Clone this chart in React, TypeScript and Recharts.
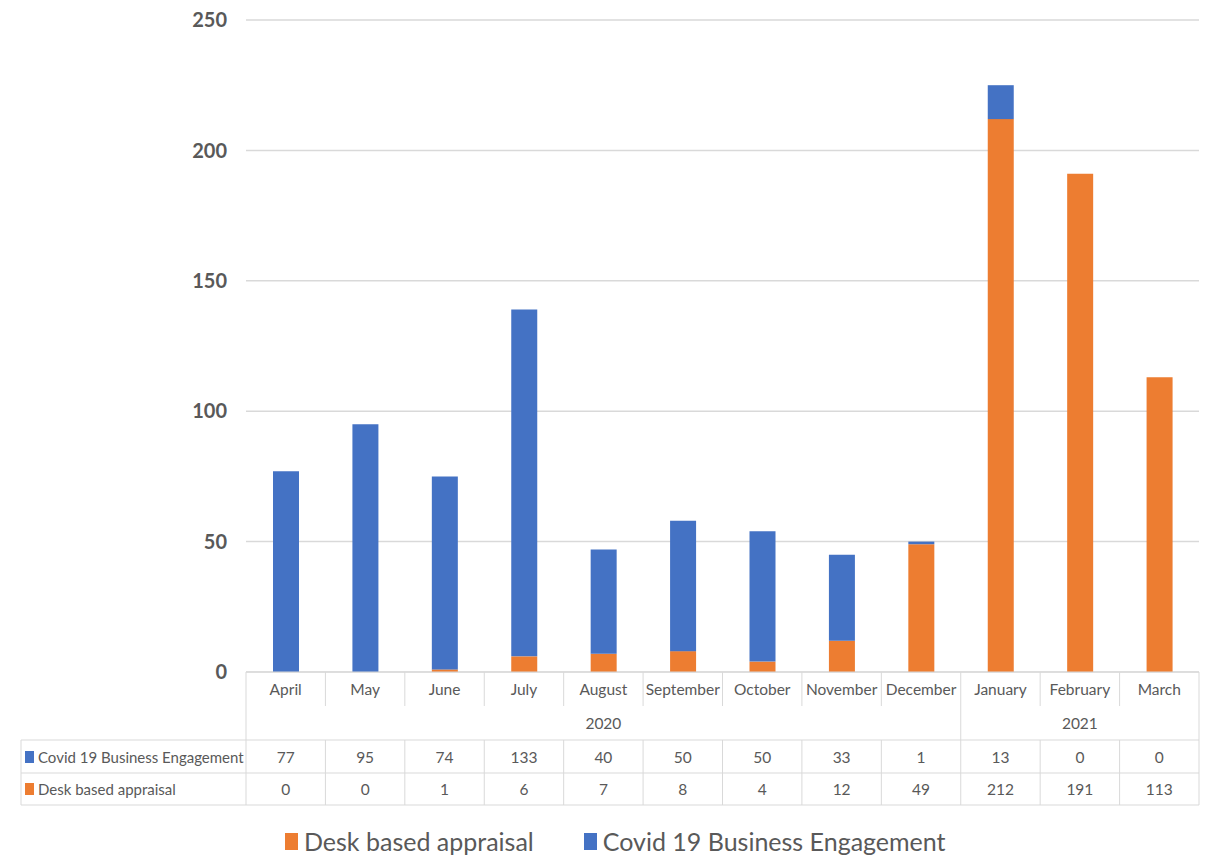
import React from "react";
import { BarChart, Bar, XAxis, YAxis, CartesianGrid, Legend } from "recharts";

// values
const months = ["April", "May", "June", "July", "August", "September", "October", "November", "December", "January", "February", "March"];
const monthYears = ["2020", "2020", "2020", "2020", "2020", "2020", "2020", "2020", "2020", "2021", "2021", "2021"];
const covidValues = [77, 95, 74, 133, 40, 50, 50, 33, 1, 13, 0, 0];
const deskValues = [0, 0, 1, 6, 7, 8, 4, 12, 49, 212, 191, 113];
const yTicks = [0, 50, 100, 150, 200, 250];

const COVID_NAME = "Covid 19 Business Engagement";
const DESK_NAME = "Desk based appraisal";
const BLUE = "#4472C4";
const ORANGE = "#ED7D31";
const TEXT = "#595959";
const LINE = "#d9d9d9";
const FONT = "Lato, 'Open Sans', sans-serif";

const WIDTH = 1210;
const HEIGHT = 858;
const PLOT_LEFT = 246;
const PLOT_RIGHT = 1199;
const PLOT_TOP = 20;
const PLOT_BOTTOM = 672;
const TABLE_LEFT = 21;
const BAND = (PLOT_RIGHT - PLOT_LEFT) / months.length;
// row boundaries of the data table, measured down from the axis line
const ROW_MONTH = 34;
const ROW_YEAR = 68;
const ROW_COVID = 101;
const ROW_DESK = 133;

const data = months.map((m, i) => ({
  month: m,
  year: monthYears[i],
  covid: covidValues[i],
  desk: deskValues[i],
}));

function TableTick(props: any) {
  const { x, y, index } = props;
  const left = x - BAND / 2;
  const right = x + BAND / 2;
  const groupStart = index === 0 || monthYears[index] !== monthYears[index - 1];
  const last = index === months.length - 1;
  const groupCount = monthYears.filter((yr) => yr === monthYears[index]).length;
  const txt = { fill: TEXT, fontSize: 15.5, fontFamily: FONT, textAnchor: "middle" as const, dominantBaseline: "central" as const };

  return (
    <g>
      {groupStart ? (
        <line x1={left} x2={left} y1={y} y2={y + ROW_DESK} stroke={LINE} />
      ) : (
        <>
          <line x1={left} x2={left} y1={y} y2={y + ROW_MONTH} stroke={LINE} />
          <line x1={left} x2={left} y1={y + ROW_YEAR} y2={y + ROW_DESK} stroke={LINE} />
        </>
      )}
      {last && <line x1={right} x2={right} y1={y} y2={y + ROW_DESK} stroke={LINE} />}

      <text x={x} y={y + 17} {...txt}>{months[index]}</text>
      {groupStart && (
        <text x={left + (groupCount * BAND) / 2} y={y + 51} {...txt}>{monthYears[index]}</text>
      )}
      <text x={x} y={y + 85} {...txt}>{covidValues[index]}</text>
      <text x={x} y={y + 117} {...txt}>{deskValues[index]}</text>

      {index === 0 && (
        <>
          <line x1={TABLE_LEFT} x2={PLOT_RIGHT} y1={y + ROW_YEAR} y2={y + ROW_YEAR} stroke={LINE} />
          <line x1={TABLE_LEFT} x2={PLOT_RIGHT} y1={y + ROW_COVID} y2={y + ROW_COVID} stroke={LINE} />
          <line x1={TABLE_LEFT} x2={PLOT_RIGHT} y1={y + ROW_DESK} y2={y + ROW_DESK} stroke={LINE} />
          <line x1={TABLE_LEFT} x2={TABLE_LEFT} y1={y + ROW_YEAR} y2={y + ROW_DESK} stroke={LINE} />
          <rect x={25} y={y + 79} width={9} height={12} fill={BLUE} />
          <text x={38} y={y + 85} {...txt} fontSize={15} textAnchor="start">{COVID_NAME}</text>
          <rect x={25} y={y + 111} width={9} height={12} fill={ORANGE} />
          <text x={38} y={y + 117} {...txt} fontSize={15} textAnchor="start">{DESK_NAME}</text>
        </>
      )}
    </g>
  );
}

function LegendContent() {
  const item = (color: string, label: string, ml: number) => (
    <div style={{ display: "flex", alignItems: "center", marginLeft: ml }}>
      <span style={{ width: 13, height: 17, background: color, marginRight: 6 }} />
      <span style={{ fontSize: 25, color: TEXT, fontFamily: FONT, lineHeight: "34px" }}>{label}</span>
    </div>
  );
  return (
    <div style={{ display: "flex", alignItems: "center", paddingLeft: 285 }}>
      {item(ORANGE, DESK_NAME, 0)}
      {item(BLUE, COVID_NAME, 50)}
    </div>
  );
}

export default function App() {
  return (
    <div style={{ position: "absolute", left: 0, top: 0, width: WIDTH, height: HEIGHT, background: "#fff" }}>
      <BarChart
        width={WIDTH}
        height={HEIGHT}
        data={data}
        margin={{ top: PLOT_TOP, right: WIDTH - PLOT_RIGHT, left: 0, bottom: 0 }}
      >
        <CartesianGrid vertical={false} stroke={LINE} strokeWidth={1.5} />
        <XAxis
          dataKey="month"
          interval={0}
          height={HEIGHT - PLOT_BOTTOM}
          axisLine={{ stroke: LINE }}
          tickLine={false}
          tickSize={0}
          tickMargin={0}
          tick={<TableTick />}
        />
        <YAxis
          width={PLOT_LEFT}
          domain={[0, 250]}
          ticks={yTicks}
          axisLine={false}
          tickLine={false}
          tickMargin={13}
          tick={{ fill: TEXT, fontSize: 20, fontWeight: "bold", fontFamily: FONT }}
        />
        <Legend
          verticalAlign="middle"
          align="center"
          layout="horizontal"
          content={<LegendContent />}
          wrapperStyle={{ position: "absolute", top: 824, left: 0, width: WIDTH, height: 34 }}
        />
        <Bar dataKey="desk" name={DESK_NAME} stackId="a" fill={ORANGE} barSize={26} isAnimationActive={false} />
        <Bar dataKey="covid" name={COVID_NAME} stackId="a" fill={BLUE} barSize={26} isAnimationActive={false} />
      </BarChart>
    </div>
  );
}
